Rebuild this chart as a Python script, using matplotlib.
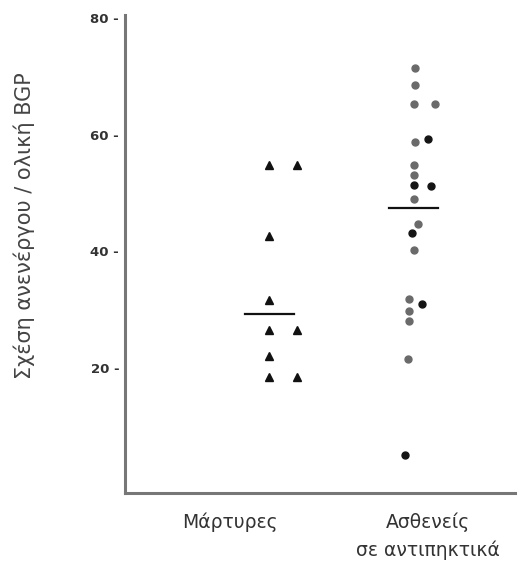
import matplotlib
matplotlib.use("Agg")
import matplotlib.pyplot as plt
import numpy as np

# values
groups = ["Μάρτυρες", "Ασθενείς\nσε αντιπηκτικά"]
controls = [54.7, 54.7, 42.7, 31.7, 26.6, 26.6, 22.1, 18.4, 18.4]
patients = [71.4, 68.4, 65.2, 65.2, 59.3, 58.7, 54.7, 53.0, 51.3, 51.1,
            48.9, 44.6, 43.2, 40.3, 31.9, 31.0, 29.8, 28.1, 21.6, 5.1]
medians = [29.3, 47.5]
y_ticks = [20, 40, 60, 80]

# horizontal layout of the dot columns (offset from the group centre)
controls_dx = [0.0, 0.19, 0.0, 0.0, 0.0, 0.19, 0.0, 0.0, 0.19]
patients_dx = [0.01, 0.01, 0.0, 0.15, 0.10, 0.01, 0.0, 0.0, 0.0, 0.12,
               0.0, 0.03, -0.01, 0.0, -0.03, 0.06, -0.03, -0.03, -0.04, -0.06]
patients_dark = [False, False, False, False, True, False, False, False, True, True,
                 False, False, True, False, False, True, False, False, False, True]

fig = plt.figure(figsize=(5.2, 5.7), dpi=100)
ax = fig.add_axes([0.240, 0.135, 0.750, 0.839])

ax.plot(1 + np.array(controls_dx), controls, linestyle="none", marker="^",
        markersize=6, color="#111111")
px = 2 + np.array(patients_dx)
py = np.array(patients)
dark = np.array(patients_dark)
ax.plot(px[~dark], py[~dark], linestyle="none", marker="o", markersize=5,
        color="#6a6a6a")
ax.plot(px[dark], py[dark], linestyle="none", marker="o", markersize=5,
        color="#151515")

for centre, med in zip([1, 2], medians):
    ax.plot([centre - 0.17, centre + 0.17], [med, med], color="#111111", lw=1.6)

ax.set_xlim(0, 2.7)
ax.set_ylim(-1.4, 80.5)
ax.set_yticks(y_ticks)
ax.set_yticklabels([f"{t} -" for t in y_ticks], fontsize=9.5, fontweight="bold",
                   color="#333333")
ax.tick_params(axis="y", length=0, pad=4)
ax.set_xticks([0.73, 2.10])
ax.set_xticklabels(groups, fontsize=13.5, color="#333333", linespacing=1.55,
                   va="top")
ax.tick_params(axis="x", length=0, pad=14)

for side in ["top", "right"]:
    ax.spines[side].set_visible(False)
for side in ["left", "bottom"]:
    ax.spines[side].set_color("#777777")
    ax.spines[side].set_linewidth(2.2)

fig.text(0.046, 0.605, "Σχέση ανενέργου / ολική BGP", rotation=90, fontsize=15,
         color="#444444", ha="center", va="center")

fig.savefig("out.png", dpi=100)
